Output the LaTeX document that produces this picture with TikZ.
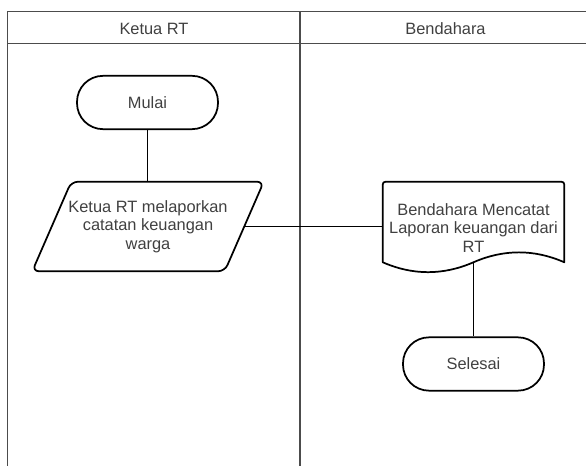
\documentclass[tikz,border=0pt]{standalone}
\usepackage{fontspec}
\setmainfont{Liberation Sans}
\usetikzlibrary{calc}
\begin{document}
\begin{tikzpicture}[x=0.75pt,y=-0.75pt,
  lane/.style={draw=black!70, line width=0.8pt},
  lbl/.style={font=\fontsize{12.3}{13.7}\selectfont, text=black!75},
  term/.style={lbl, draw, line width=1.3pt, rounded corners=19.5pt, minimum width=105.75pt, minimum height=40pt, inner sep=0pt},
  txt/.style={lbl, align=center, inner sep=0pt},
  conn/.style={draw, line width=0.9pt},
  shapeline/.style={draw, line width=1.3pt, line join=round}
]
\useasboundingbox (0,0) rectangle (586,466);
% swimlanes
\draw[lane] (7.5,466) -- (7.5,11.5) -- (586,11.5);
\draw[lane] (7.5,43.5) -- (586,43.5);
\draw[lane] (300,11.5) -- (300,466);
\node[txt] (h1) at (154,28.5) {Ketua RT};
\node[txt] (h2) at (445.5,28.5) {Bendahara};
% start
\node[term] (start) at (147.5,102.5) {Mulai};
% parallelogram
\node[txt, minimum width=144pt, minimum height=66.75pt] (par) at (148,226.5) {Ketua RT melaporkan\\catatan keuangan\\warga};
\draw[shapeline, rounded corners=5pt] ($(par.north west)+(19.5,0)$) -- ($(par.north east)+(19.5,0)$) -- ($(par.south east)+(-19.5,0)$) -- ($(par.south west)+(-19.5,0)$) -- cycle;
% document
\node[minimum width=135.75pt, minimum height=60pt, inner sep=0pt] (doc) at (473.5,222) {};
\draw[shapeline] (doc.south east) .. controls ($(doc.south east)+(-30.1,-13.2)$) and ($(doc.south)+(30.3,-13.2)$) .. (doc.south)
  .. controls ($(doc.south)+(-30.3,13.2)$) and ($(doc.south west)+(30.1,13.2)$) .. (doc.south west)
  -- ($(doc.north west)+(0,6)$) .. controls (doc.north west) .. ($(doc.north west)+(6,0)$)
  -- ($(doc.north east)+(-6,0)$) .. controls (doc.north east) .. ($(doc.north east)+(0,6)$) -- cycle;
\node[txt] (doctext) at (473.5,228) {Bendahara Mencatat\\Laporan keuangan dari\\RT};
% end
\node[term] (end) at (473.5,364) {Selesai};
% connectors
\draw[conn] (start.south) -- (start.south |- par.north);
\draw[conn] (par.east) -- (par.east -| doc.west);
\draw[conn] (doc.south) -- (end.north);
\end{tikzpicture}
\end{document}
